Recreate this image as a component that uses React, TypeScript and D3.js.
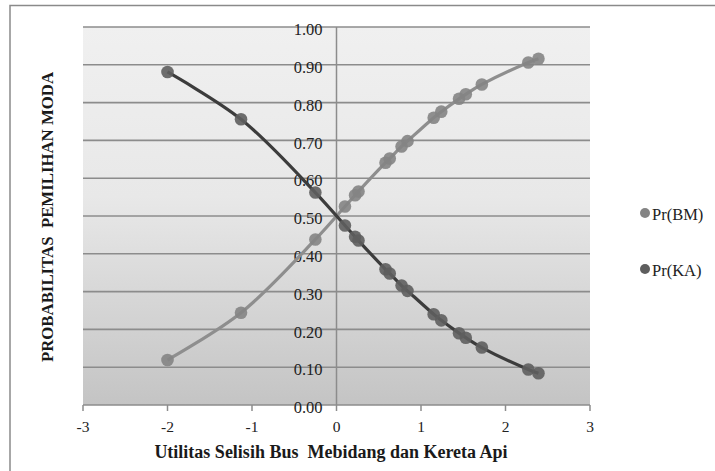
import React from "react";
import * as d3 from "d3";

const xValues = [-2.0, -1.13, -0.25, 0.1, 0.22, 0.26, 0.58, 0.63, 0.77, 0.84, 1.15, 1.24, 1.45, 1.53, 1.72, 2.27, 2.39];
const prBM = [0.119, 0.244, 0.438, 0.525, 0.555, 0.565, 0.641, 0.652, 0.684, 0.698, 0.76, 0.776, 0.81, 0.822, 0.848, 0.906, 0.916];
const prKA = [0.881, 0.756, 0.562, 0.475, 0.445, 0.435, 0.359, 0.348, 0.316, 0.302, 0.24, 0.224, 0.19, 0.178, 0.152, 0.094, 0.084];
const xTicks = [-3, -2, -1, 0, 1, 2, 3];
const yTicks = [0, 0.1, 0.2, 0.3, 0.4, 0.5, 0.6, 0.7, 0.8, 0.9, 1.0];
const seriesNames = ["Pr(BM)", "Pr(KA)"];
const xTitle = "Utilitas Selisih Bus  Mebidang dan Kereta Api";
const yTitle = "PROBABILITAS  PEMILIHAN MODA";

const W = 715, H = 471;
const plot = { left: 83, right: 590, top: 27, bottom: 405 };
const FONT = "'Liberation Serif', 'DejaVu Serif', serif";

export default function App() {
  const x = d3.scaleLinear().domain([-3, 3]).range([plot.left, plot.right]);
  const y = d3.scaleLinear().domain([0, 1]).range([plot.bottom, plot.top]);
  const line = d3
    .line<[number, number]>()
    .x((d) => x(d[0]))
    .y((d) => y(d[1]))
    .curve(d3.curveCatmullRom.alpha(0.5));
  const series = [
    { name: seriesNames[0], values: prBM, line: "#8e8e8e", marker: "#848484" },
    { name: seriesNames[1], values: prKA, line: "#3c3c3c", marker: "#5e5e5e" },
  ];
  return (
    <svg width={W} height={H} style={{ position: "absolute", left: 0, top: 0 }} fontFamily={FONT}>
      <defs>
        <linearGradient id="bg" x1="0" y1="0" x2="0" y2="1">
          <stop offset="0" stopColor="#f0f0f0" />
          <stop offset="0.45" stopColor="#e8e8e8" />
          <stop offset="1" stopColor="#c4c4c4" />
        </linearGradient>
      </defs>
      <rect x={0} y={0} width={W} height={H} fill="#fff" />
      <rect x={10} y={5.5} width={W + 10} height={H + 10} fill="none" stroke="#8a8a8a" strokeWidth={1.5} />
      <rect x={plot.left} y={plot.top} width={plot.right - plot.left} height={plot.bottom - plot.top} fill="url(#bg)" />
      {yTicks.map((t) => (
        <line key={t} x1={plot.left} x2={plot.right} y1={y(t)} y2={y(t)} stroke="#8c8c8c" strokeWidth={1.6} />
      ))}
      <line x1={x(0)} x2={x(0)} y1={plot.top} y2={plot.bottom} stroke="#8c8c8c" strokeWidth={1.5} />
      {xTicks.map((t) => (
        <line key={t} x1={x(t)} x2={x(t)} y1={plot.bottom} y2={plot.bottom + 6} stroke="#8c8c8c" strokeWidth={1.5} />
      ))}
      {yTicks.map((t) => (
        <text key={t} x={x(0) - 14} y={y(t) + 2.5} dy="0.35em" textAnchor="end" fontSize={16.5} fill="#222">
          {t.toFixed(2)}
        </text>
      ))}
      {xTicks.map((t) => (
        <text key={t} x={x(t)} y={plot.bottom + 22} dy="0.35em" textAnchor="middle" fontSize={15.5} fill="#222">
          {t}
        </text>
      ))}
      {series.map((s) => {
        const pts: [number, number][] = xValues.map((v, i) => [v, s.values[i]]);
        return (
          <g key={s.name}>
            <path d={line(pts) || ""} fill="none" stroke={s.line} strokeWidth={3.2} />
            {pts.map((p, i) => (
              <circle key={i} cx={x(p[0])} cy={y(p[1])} r={6.3} fill={s.marker} fillOpacity={0.9} />
            ))}
          </g>
        );
      })}
      <text x={331} y={458} textAnchor="middle" fontSize={18} fontWeight="bold" fill="#1a1a1a" style={{ whiteSpace: "pre" }}>
        {xTitle}
      </text>
      <text transform={`translate(53, 217) rotate(-90)`} textAnchor="middle" fontSize={16.8} fontWeight="bold" fill="#1a1a1a" style={{ whiteSpace: "pre" }}>
        {yTitle}
      </text>
      {series.map((s, i) => (
        <g key={s.name} transform={`translate(645, ${213 + i * 56})`}>
          <circle cx={0} cy={0} r={5} fill={s.marker} />
          <text x={7} y={1} dy="0.35em" fontSize={16.5} fill="#222">
            {s.name}
          </text>
        </g>
      ))}
    </svg>
  );
}
